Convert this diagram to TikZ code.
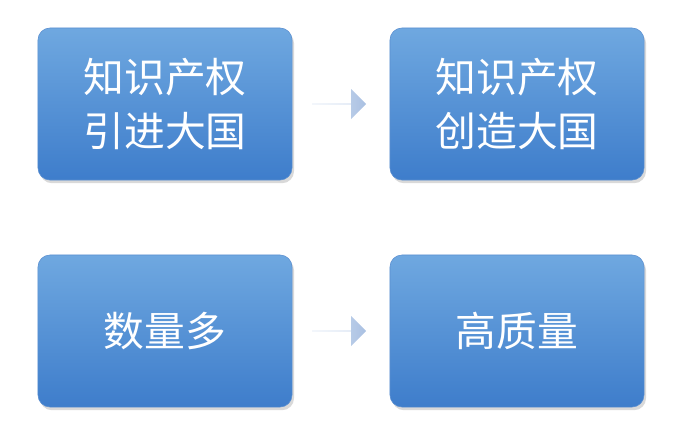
\documentclass[tikz,border=0pt]{standalone}
\usepackage{fontspec}
\newfontfamily\cjk{Noto Sans CJK SC}
\usetikzlibrary{positioning, shapes.arrows, shadows}
\definecolor{boxtop}{HTML}{6FA8E0}
\definecolor{boxbot}{HTML}{3E7DCB}
\definecolor{boxline}{HTML}{5B8FD0}
\definecolor{arrtop}{HTML}{DCE6F4}
\definecolor{arrbot}{HTML}{A9C0E2}

\begin{document}
\begin{tikzpicture}[
      x=0.025cm, y=-0.025cm,
      block/.style={
        minimum width=6.35cm,
        minimum height=3.8cm,
        align=center,
        rounded corners=3mm,
        draw=boxline,
        top color=boxtop,
        bottom color=boxbot,
        text=white,
        font=\cjk\fontsize{29}{38}\selectfont,
        drop shadow={opacity=0.3, shadow xshift=0.5mm, shadow yshift=-0.8mm},
      },
      blockarrow/.style={
        single arrow,
        minimum width=0.75cm,
        minimum height=1.35cm,
        single arrow head extend=0.32cm,
        inner sep=0pt,
        left color=arrtop,
        right color=arrbot,
        draw=none,
      },
      ]
      \useasboundingbox (0,0) rectangle (683,430);
      \node[block] (import) at (165,104) {知识产权\\引进大国};
      \node[block] (create) at (517,104) {知识产权\\创造大国};
      \node[block] (many) at (165,331) {数量多};
      \node[block] (quality) at (517,331) {高质量};
      \node[blockarrow] (arrA) at (339,104) {};
      \node[blockarrow] (arrB) at (339,331) {};
    \end{tikzpicture}
\end{document}
